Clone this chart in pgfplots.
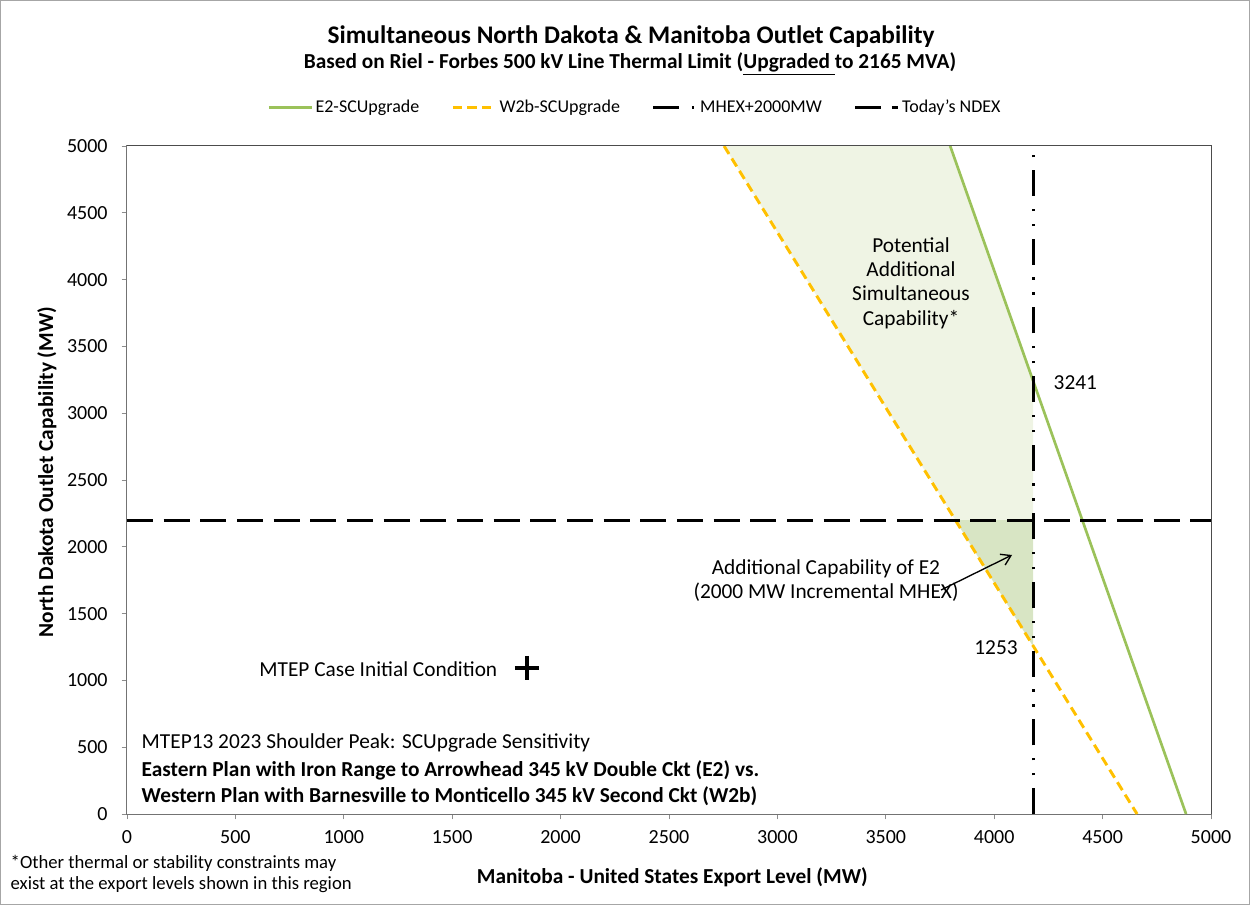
\documentclass[border=0pt]{standalone}
\usepackage{fontspec}
\setmainfont{Carlito}
\usepackage{pgfplots}
\pgfplotsset{compat=1.18}
\usetikzlibrary{arrows.meta}
\definecolor{egreen}{RGB}{155,194,90}
\definecolor{wyellow}{RGB}{255,192,0}
\definecolor{lightfill}{RGB}{239,244,228}
\definecolor{darkfill}{RGB}{216,229,196}
\begin{document}
\begin{tikzpicture}[x=0.75pt,y=-0.75pt]
\path[use as bounding box] (0,0) rectangle (1250,905);
\draw[black!35,line width=0.75pt] (0.6,0.6) rectangle (1249.4,904.4);
\begin{axis}[
  at={(95.25pt,-109.5pt)}, anchor=north west,
  width=813pt, height=501pt, scale only axis,
  xmin=0, xmax=5000, ymin=0, ymax=5000,
  xtick={0,500,...,5000}, ytick={0,500,...,5000},
  tick align=outside, tick pos=left,
  major tick length=4pt,
  tick style={black!45, line width=0.6pt},
  axis line style={black!55, line width=0.75pt},
  scaled ticks=false,
  /pgf/number format/.cd, 1000 sep={}, assume math mode=true, /pgfplots/.cd,
  tick label style={font=\fontsize{15}{18}\selectfont},
  xticklabel style={yshift=-5pt},
  yticklabel style={xshift=-7pt},
  xlabel={\textbf{Manitoba - United States Export Level (MW)}},
  ylabel={\textbf{North Dakota Outlet Capability (MW)}},
  xlabel style={at={(axis description cs:0.503,-0.094)}, anchor=center, font=\fontsize{16}{19}\selectfont},
  ylabel style={at={(axis description cs:-0.0738,0.512)}, anchor=center, font=\fontsize{16}{19}\selectfont},
  legend columns=4,
  legend style={draw=none, fill=none, at={(axis description cs:0.469,1.058)}, anchor=center,
    font=\fontsize{13.5}{16}\selectfont,
    /tikz/every even column/.append style={column sep=22pt}},
  legend image code/.code={\draw[#1] (0pt,0pt) -- (32pt,0pt);},
]
% shaded regions
\addplot[fill=lightfill, draw=none, forget plot] coordinates {(2754,5000) (3797,5000) (4180,3241) (4180,2200) (3821,2200)};
\addplot[fill=darkfill, draw=none, forget plot] coordinates {(3821,2200) (4180,2200) (4180,1253)};
% series
\addplot[egreen, line width=2pt] coordinates {(3797,5000) (4885,0)};
\addlegendentry{E2-SCUpgrade}
\addplot[wyellow, line width=2.2pt, dash pattern=on 7pt off 4pt] coordinates {(2754,5000) (4659,0)};
\addlegendentry{W2b-SCUpgrade}
\addplot[black, line width=2.2pt, dash pattern=on 19.5pt off 9.4pt on 1.9pt off 9.4pt on 1.9pt off 9.4pt] coordinates {(4180,0) (4180,5000)};
\addlegendentry{MHEX+2000MW}
\addplot[black, line width=2.2pt, dash pattern=on 19.5pt off 8pt] coordinates {(0,2200) (5000,2200)};
\addlegendentry{Today's NDEX}
% initial condition
\addplot[black, only marks, mark=+, mark size=9pt, line width=3pt, forget plot] coordinates {(1845,1093)};
\end{axis}
% border of plot area
\draw[black!70, line width=0.75pt] (127,146) -- (1211,146) -- (1211,814);
% titles
\node[font=\fontsize{19}{22}\selectfont\bfseries] at (631,37) {Simultaneous North Dakota \& Manitoba Outlet Capability};
\node[font=\fontsize{16}{19}\selectfont\bfseries] at (630,64) {Based on Riel - Forbes 500 kV Line Thermal Limit (\underline{Upgraded\ }to 2165 MVA)};
% annotations
\node[font=\fontsize{16}{18.3}\selectfont, align=center] at (911,283) {Potential\\Additional\\Simultaneous\\Capability*};
\node[font=\fontsize{16}{19}\selectfont, anchor=west] at (1049,383) {3241};
\node[font=\fontsize{16}{19}\selectfont] at (996,648) {1253};
\node[font=\fontsize{16}{18}\selectfont, align=center] at (826,581) {Additional Capability of E2\\(2000 MW Incremental MHEX)};
\draw[-{Straight Barb[length=7pt,width=9pt]}, line width=1pt] (941,590) -- (1012,555);
\node[font=\fontsize{16}{19}\selectfont, anchor=east] at (502,669) {MTEP Case Initial Condition};
\node[font=\fontsize{16}{19}\selectfont, anchor=west] at (137,743) {MTEP13 2023 Shoulder Peak: SCUpgrade Sensitivity};
\node[font=\fontsize{16}{19}\selectfont\bfseries, anchor=west] at (137,770) {Eastern Plan with Iron Range to Arrowhead 345 kV Double Ckt (E2) vs.};
\node[font=\fontsize{16}{19}\selectfont\bfseries, anchor=west] at (137,796) {Western Plan with Barnesville to Monticello 345 kV Second Ckt (W2b)};
\node[font=\fontsize{14}{17}\selectfont, anchor=west] at (6,863) {*Other thermal or stability constraints may};
\node[font=\fontsize{14}{17}\selectfont, anchor=west] at (6,885) {exist at the export levels shown in this region};
\end{tikzpicture}
\end{document}
